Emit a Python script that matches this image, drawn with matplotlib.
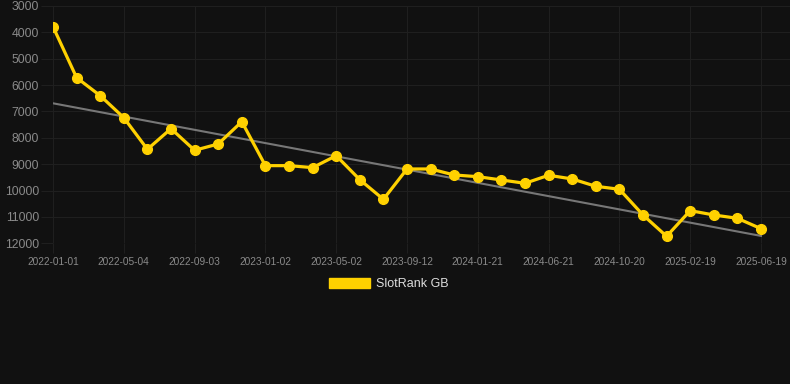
import matplotlib as mpl
import matplotlib.pyplot as plt
from matplotlib.patches import Patch

# rank values (lower is better, axis is reversed)
rank_values = [3785, 5718, 6401, 7236, 8435, 7652, 8473, 8233, 7387, 9055,
               9055, 9130, 8677, 9587, 10332, 9181, 9181, 9409, 9473, 9598,
               9724, 9420, 9560, 9838, 9951, 10926, 11734, 10761, 10926,
               11052, 11445]
tick_labels = ['2022-01-01', '2022-05-04', '2022-09-03', '2023-01-02',
               '2023-05-02', '2023-09-12', '2024-01-21', '2024-06-21',
               '2024-10-20', '2025-02-19', '2025-06-19']
trend_values = [6690, 11720]
y_ticks = [3000, 4000, 5000, 6000, 7000, 8000, 9000, 10000, 11000, 12000]

bg = '#111111'
gold = '#ffd100'
grid = '#1f1f1f'
label_col = '#8a8a8a'

dpi = 100
fig = plt.figure(dpi=dpi, figsize=(790 / dpi, 384 / dpi), facecolor=bg)
mpl.rcParams.update({'font.family': ['Liberation Sans', 'DejaVu Sans']})

ax = fig.add_axes([53 / 790, 1 - 243.3 / 384, 1 - 53 / 790, (243.3 - 6) / 384])
ax.set_facecolor(bg)

xs = list(range(len(rank_values)))
n = len(rank_values) - 1

ax.plot([0, n], trend_values, color='#777777', linewidth=1.5, zorder=2)
ax.plot(xs, rank_values, color=gold, linewidth=2.3, marker='o',
        markersize=7, markerfacecolor=gold, markeredgecolor=gold, zorder=3)

ax.set_ylim(12000, 3000)
ax.set_xlim(0, (790 - 53) / 23.6)
ax.set_yticks(y_ticks)
ax.set_yticklabels([str(v) for v in y_ticks])
ax.set_xticks(xs[::3])
ax.set_xticklabels(tick_labels)

ax.grid(True, color=grid, linewidth=0.8, zorder=0)
for s in ax.spines.values():
    s.set_visible(False)
ax.tick_params(axis='y', length=9, width=0.8, color=grid, labelcolor=label_col,
               labelsize=8.8, pad=1)
ax.tick_params(axis='x', length=7, width=0.8, color=grid, labelcolor=label_col,
               labelsize=7.3, pad=3)

fig.legend(handles=[Patch(facecolor=gold, edgecolor=gold, label='SlotRank GB')],
           loc='center', bbox_to_anchor=(389 / 790, 1 - 284 / 384),
           frameon=False, fontsize=9, labelcolor='#dddddd',
           handlelength=3.3, handleheight=0.9, handletextpad=0.5,
           borderpad=0)

fig.savefig('out.png', dpi=dpi, facecolor=bg)
